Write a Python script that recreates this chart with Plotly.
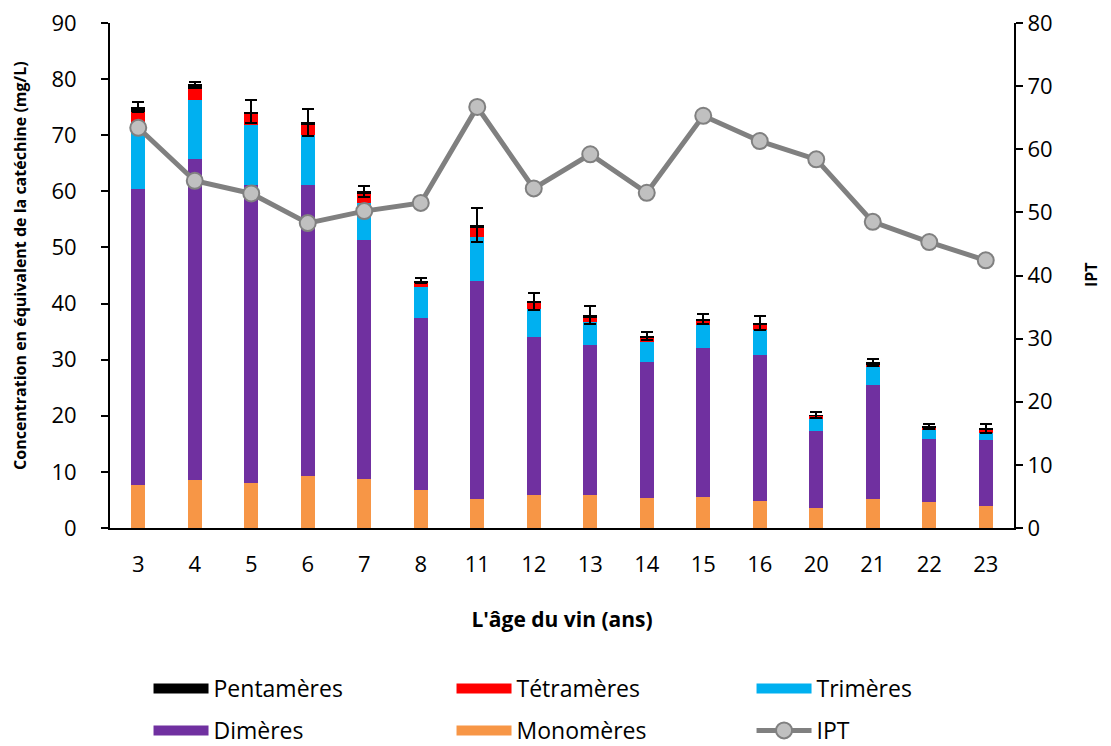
import plotly.graph_objects as go

ages = ['3', '4', '5', '6', '7', '8', '11', '12', '13', '14', '15', '16', '20', '21', '22', '23']
monomeres = [7.6, 8.5, 8.1, 9.2, 8.8, 6.8, 5.2, 5.8, 5.8, 5.3, 5.5, 4.9, 3.6, 5.1, 4.6, 4.0]
dimeres = [52.9, 57.2, 53.0, 51.9, 42.5, 30.7, 38.9, 28.3, 26.9, 24.3, 26.6, 26.0, 13.6, 20.4, 11.3, 11.7]
trimeres = [11.6, 10.5, 10.7, 8.9, 6.7, 5.4, 7.8, 4.9, 4.1, 3.6, 4.1, 4.4, 2.2, 3.2, 1.7, 1.3]
tetrameres = [2.1, 2.1, 1.9, 1.8, 1.5, 0.9, 1.6, 1.2, 0.8, 0.6, 0.8, 0.9, 0.6, 0.5, 0.3, 0.6]
pentameres = [0.8, 0.8, 0.5, 0.5, 0.5, 0.3, 0.5, 0.2, 0.3, 0.4, 0.3, 0.3, 0.1, 0.3, 0.2, 0.1]
erreur = [0.9, 0.3, 2.1, 2.4, 1.0, 0.5, 3.0, 1.5, 1.6, 0.7, 0.9, 1.2, 0.5, 0.6, 0.4, 0.8]
ipt = [63.4, 55.0, 53.0, 48.3, 50.2, 51.5, 66.7, 53.8, 59.2, 53.1, 65.3, 61.3, 58.4, 48.5, 45.3, 42.4]

FONT = "Open Sans"
BW = 0.25
COLORS = {"Pentamères": "#000000", "Tétramères": "#FF0000", "Trimères": "#00B0F0",
          "Dimères": "#7030A0", "Monomères": "#F79646"}

fig = go.Figure()
for name, vals in [("Monomères", monomeres), ("Dimères", dimeres), ("Trimères", trimeres),
                   ("Tétramères", tetrameres), ("Pentamères", pentameres)]:
    kw = {}
    if name == "Pentamères":
        kw["error_y"] = dict(type="data", array=erreur, visible=True, color="black", thickness=2, width=6)
    fig.add_trace(go.Bar(x=ages, y=vals, name=name, marker=dict(color=COLORS[name], line=dict(width=0)),
                         width=BW, showlegend=False, legendgroup=name, **kw))

fig.add_trace(go.Scatter(x=ages, y=ipt, name="IPT", yaxis="y2", mode="lines+markers",
                         line=dict(color="#808080", width=5),
                         marker=dict(size=16, color="#C0C0C0", line=dict(color="#808080", width=2)),
                         legend="legend3", legendgroup="IPT", legendrank=2))

# legend keys (wide rectangles, as in the reference)
legend_slots = [("Pentamères", "legend", 1), ("Dimères", "legend", 2),
                ("Tétramères", "legend2", 1), ("Monomères", "legend2", 2),
                ("Trimères", "legend3", 1)]
for name, lg, rank in legend_slots:
    fig.add_trace(go.Scatter(x=[None], y=[None], mode="lines", name=name,
                             line=dict(color=COLORS[name], width=17),
                             legend=lg, legendgroup=name, legendrank=rank, hoverinfo="skip"))

legend_common = dict(orientation="v", xref="container", yref="container",
                     xanchor="left", yanchor="top", y=0.107,
                     font=dict(family=FONT, size=23, color="black"),
                     traceorder="grouped", tracegroupgap=9, itemwidth=55,
                     bgcolor="rgba(0,0,0,0)")

fig.update_layout(
    width=1103, height=738,
    margin=dict(l=102, r=97, t=15, b=218, autoexpand=False),
    paper_bgcolor="white", plot_bgcolor="white",
    barmode="stack", bargap=0.75,
    showlegend=True,
    font=dict(family=FONT, color="black"),
    xaxis=dict(type="category", range=[-0.5, len(ages) - 0.5], showline=True, linecolor="black", linewidth=2,
               ticks="", tickfont=dict(family=FONT, size=22, color="black"),
               ticklabelstandoff=16,
               title=dict(text="<b>L'âge du vin (ans)</b>", font=dict(family=FONT, size=21), standoff=35)),
    yaxis=dict(range=[0, 90], dtick=10, showgrid=False, zeroline=False, showline=True,
               linecolor="black", linewidth=2, ticks="outside", ticklen=7, tickwidth=2, tickcolor="black",
               tickfont=dict(family=FONT, size=22, color="black"), ticklabelstandoff=20,
               ticklabeloverflow="allow"),
    yaxis2=dict(range=[0, 80], dtick=10, overlaying="y", side="right", showgrid=False, zeroline=False,
                showline=True, linecolor="black", linewidth=2, ticks="outside", ticklen=7,
                tickwidth=2, tickcolor="black", tickfont=dict(family=FONT, size=22, color="black"),
                ticklabeloverflow="allow"),
    legend=dict(legend_common, x=0.1274),
    legend2=dict(legend_common, x=0.4021),
    legend3=dict(legend_common, x=0.6741),
    annotations=[
        dict(text="<b>Concentration en équivalent de la catéchine (mg/L)</b>", textangle=-90,
             xref="paper", yref="paper", x=-0.0996, y=0.5208, xanchor="center", yanchor="middle",
             showarrow=False, font=dict(family=FONT, size=16, color="black")),
        dict(text="<b>IPT</b>", textangle=-90,
             xref="paper", yref="paper", x=1.0852, y=0.501, xanchor="center", yanchor="middle",
             showarrow=False, font=dict(family=FONT, size=16, color="black")),
    ],
)

fig.write_html("out.html")
